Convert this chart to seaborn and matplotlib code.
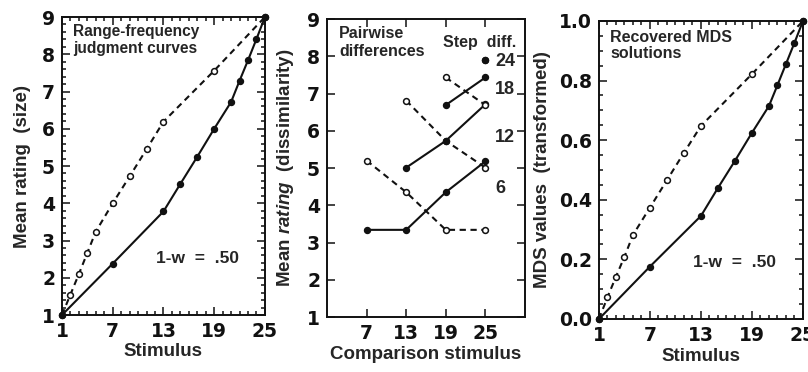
import numpy as np
import pandas as pd
import matplotlib
matplotlib.use("Agg")
import matplotlib.pyplot as plt
from matplotlib.ticker import MultipleLocator, FixedLocator, FormatStrFormatter
import seaborn as sns

# ---- data -------------------------------------------------------------
# Range-frequency judgment curves (mean size ratings)
rf_solid_x = [1, 7, 13, 15, 17, 19, 21, 22, 23, 24, 25]
rf_solid_y = [1.0, 2.38, 3.78, 4.52, 5.25, 6.0, 6.72, 7.29, 7.84, 8.41, 9.0]
rf_dash_x = [1, 2, 3, 4, 5, 7, 9, 11, 13, 19, 25]
rf_dash_y = [1.0, 1.55, 2.1, 2.67, 3.24, 4.0, 4.72, 5.45, 6.19, 7.56, 9.0]

# Pairwise dissimilarity ratings by comparison stimulus and step difference
comparison = [7, 13, 19, 25]
step_diffs = [6, 12, 18, 24]
pw_solid = {6: [3.34, 3.34, 4.35, 5.18], 12: [5.01, 5.73, 6.71],
            18: [6.69, 7.43], 24: [7.9]}
pw_dash = {6: [5.2, 4.35, 3.34, 3.34], 12: [6.81, 5.73, 5.01],
           18: [7.43, 6.69], 24: [7.9]}
step_label_y = {24: 7.85, 18: 7.12, 12: 5.83, 6: 4.46}

# Recovered MDS solutions (transformed)
mds_solid_x = [1, 7, 13, 15, 17, 19, 21, 22, 23, 24, 25]
mds_solid_y = [0.0, 0.176, 0.346, 0.44, 0.531, 0.625, 0.715, 0.785, 0.856, 0.927, 1.0]
mds_dash_x = [1, 2, 3, 4, 5, 7, 9, 11, 13, 19, 25]
mds_dash_y = [0.0, 0.073, 0.142, 0.209, 0.282, 0.374, 0.466, 0.558, 0.648, 0.822, 1.0]

stim_ticks = [1, 7, 13, 19, 25]

# ---- style ------------------------------------------------------------
sns.set_theme(style="ticks")
plt.rcParams["font.family"] = ["Liberation Sans", "DejaVu Sans"]
plt.rcParams["font.weight"] = "bold"
plt.rcParams["axes.labelweight"] = "bold"
plt.rcParams["mathtext.fontset"] = "custom"
plt.rcParams["mathtext.it"] = "Liberation Sans:italic:bold"
plt.rcParams["mathtext.rm"] = "Liberation Sans:bold"

INK = "#111111"
LW = 1.5
DASH = (0, (3, 2.2))
TICK_FS = 13.5
LABEL_FS = 13.5
NOTE_FS = 11.5


def style_axes(ax):
    for sp in ax.spines.values():
        sp.set_linewidth(1.4)
        sp.set_color(INK)
    ax.tick_params(which="both", direction="in", top=True, right=True,
                   colors=INK, labelsize=TICK_FS, width=1.1)
    ax.tick_params(which="major", length=6, pad=5)
    ax.tick_params(which="minor", length=3)
    for lab in ax.get_xticklabels() + ax.get_yticklabels():
        lab.set_fontweight("bold")
        lab.set_family("DejaVu Sans")


def draw_line(ax, xs, ys, dashed):
    sns.lineplot(x=xs, y=ys, ax=ax, color=INK, lw=LW, sort=False,
                 errorbar=None, marker="o", markersize=4.2,
                 markeredgecolor=INK, markeredgewidth=1.1,
                 markerfacecolor="white" if dashed else INK,
                 linestyle=DASH if dashed else "-", zorder=3, clip_on=False)


fig = plt.figure(figsize=(8.08, 3.72), dpi=100)
ax1 = fig.add_axes([0.0767, 0.1532, 0.2512, 0.8011])
ax2 = fig.add_axes([0.4047, 0.1478, 0.2450, 0.8011])
ax3 = fig.add_axes([0.7413, 0.1425, 0.2525, 0.8011])

# ---- panel 1: range-frequency curves -----------------------------------
draw_line(ax1, rf_dash_x, rf_dash_y, True)
draw_line(ax1, rf_solid_x, rf_solid_y, False)
ax1.set_xlim(1, 25)
ax1.set_ylim(1, 9)
ax1.xaxis.set_major_locator(FixedLocator(stim_ticks))
ax1.xaxis.set_minor_locator(MultipleLocator(1))
ax1.yaxis.set_major_locator(MultipleLocator(1))
ax1.yaxis.set_minor_locator(MultipleLocator(0.2))
ax1.set_xlabel("Stimulus", fontsize=LABEL_FS, labelpad=1.5)
ax1.set_ylabel("Mean rating  (size)", fontsize=LABEL_FS, labelpad=8)
ax1.text(0.055, 0.975, "Range-frequency\njudgment curves", transform=ax1.transAxes,
         ha="left", va="top", fontsize=11.2, fontweight="bold", linespacing=1.1)
ax1.text(17.0, 2.53, "1-w  =  .50", ha="center", va="center",
         fontsize=12.5, fontweight="bold")
style_axes(ax1)

# ---- panel 2: pairwise differences --------------------------------------
for d in step_diffs:
    xs = comparison[len(comparison) - len(pw_solid[d]):]
    draw_line(ax2, xs, pw_dash[d], True)
    draw_line(ax2, xs, pw_solid[d], False)
    ax2.text(26.5, step_label_y[d], str(d), ha="left", va="center",
             fontsize=13, fontweight="bold")
ax2.set_xlim(1, 31)
ax2.set_ylim(1, 9)
ax2.xaxis.set_major_locator(FixedLocator(comparison))
ax2.yaxis.set_major_locator(MultipleLocator(1))
ax2.set_xlabel("Comparison stimulus", fontsize=LABEL_FS, labelpad=2.5)
ax2.set_ylabel(r"Mean $\mathit{rating}$  (dissimilarity)", fontsize=LABEL_FS, labelpad=8)
ax2.text(2.8, 8.8, "Pairwise\ndifferences", ha="left", va="top",
         fontsize=NOTE_FS, fontweight="bold", linespacing=1.2)
ax2.text(29.7, 8.38, "Step  diff.", ha="right", va="center",
         fontsize=NOTE_FS, fontweight="bold")
style_axes(ax2)

# ---- panel 3: recovered MDS solutions -----------------------------------
draw_line(ax3, mds_dash_x, mds_dash_y, True)
draw_line(ax3, mds_solid_x, mds_solid_y, False)
ax3.set_xlim(1, 25)
ax3.set_ylim(0, 1)
ax3.xaxis.set_major_locator(FixedLocator(stim_ticks))
ax3.xaxis.set_minor_locator(MultipleLocator(1))
ax3.yaxis.set_major_locator(MultipleLocator(0.2))
ax3.yaxis.set_minor_locator(MultipleLocator(0.05))
ax3.yaxis.set_major_formatter(FormatStrFormatter("%.1f"))
ax3.set_xlabel("Stimulus", fontsize=LABEL_FS, labelpad=2.5)
ax3.set_ylabel("MDS values  (transformed)", fontsize=LABEL_FS, labelpad=6)
ax3.text(0.055, 0.97, "Recovered MDS\nsolutions", transform=ax3.transAxes,
         ha="left", va="top", fontsize=NOTE_FS, fontweight="bold", linespacing=1.1)
ax3.text(17.0, 0.188, "1-w  =  .50", ha="center", va="center",
         fontsize=12.5, fontweight="bold")
style_axes(ax3)

fig.savefig("out.png", dpi=100)
